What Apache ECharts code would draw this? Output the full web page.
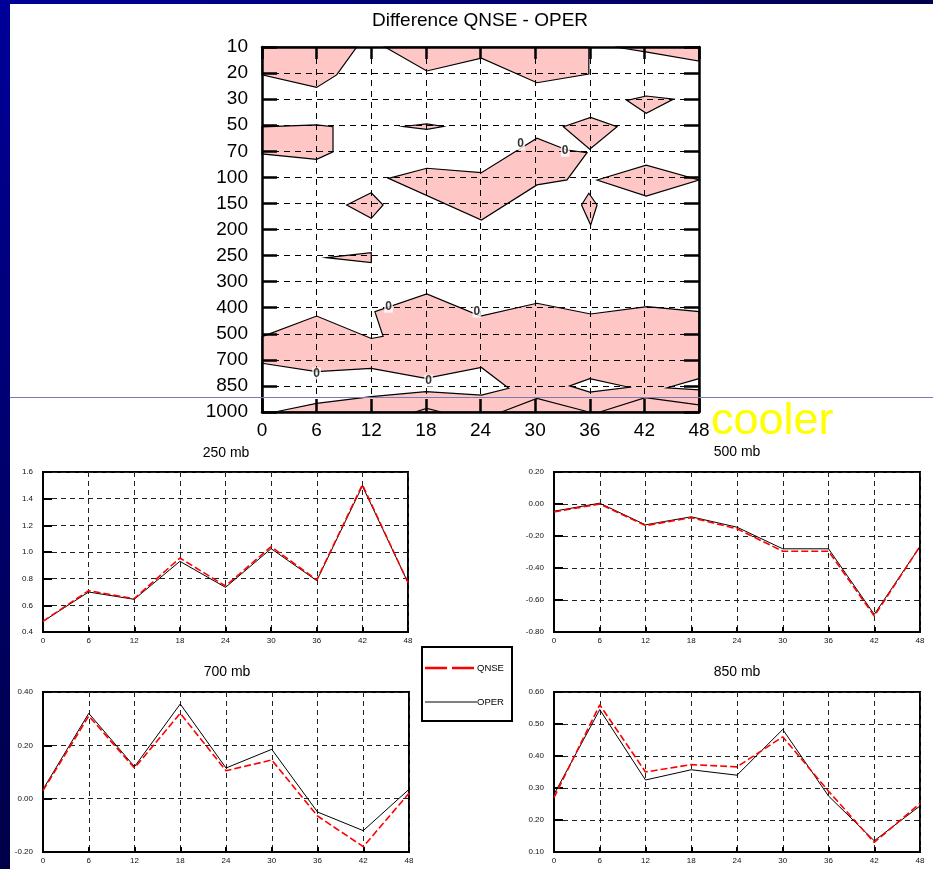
<!DOCTYPE html>
<html><head><meta charset="utf-8">
<script src="https://cdn.jsdelivr.net/npm/echarts@6/dist/echarts.min.js"></script>
<style>html,body{margin:0;padding:0;background:#fff}#c{width:933px;height:869px}</style>
</head><body><div id="c"></div>
<script>
// ---------- data ----------
const hours = [0, 6, 12, 18, 24, 30, 36, 42, 48];
const levels = ['10','20','30','50','70','100','150','200','250','300','400','500','700','850','1000'];

const qnse250 = [0.48, 0.71, 0.65, 0.955, 0.745, 1.04, 0.79, 1.505, 0.77];
const oper250 = [0.48, 0.70, 0.645, 0.93, 0.735, 1.025, 0.785, 1.495, 0.77];
const qnse500 = [-0.05, 0.0, -0.135, -0.085, -0.155, -0.295, -0.295, -0.70, -0.265];
const oper500 = [-0.045, 0.005, -0.13, -0.08, -0.145, -0.28, -0.28, -0.69, -0.265];
const qnse700 = [0.03, 0.31, 0.115, 0.32, 0.105, 0.145, -0.065, -0.18, 0.02];
const oper700 = [0.035, 0.32, 0.12, 0.355, 0.115, 0.185, -0.05, -0.12, 0.035];
const qnse850 = [0.27, 0.56, 0.35, 0.373, 0.366, 0.46, 0.29, 0.13, 0.252];
const oper850 = [0.28, 0.545, 0.325, 0.357, 0.34, 0.483, 0.275, 0.135, 0.244];

// contour regions: [hour, level index]
const pinkPolys = [
  [[0,0],[10.4,0],[8.2,1.07],[6,1.55],[0,1.07]],
  [[13.5,0],[18.1,0.92],[24.1,0.43],[30.2,1.37],[35.9,1.04],[35.9,0]],
  [[38.8,0],[42.3,0.2],[48,0.54],[48,0]],
  [[40.1,2.05],[42.2,1.88],[45.2,2.0],[42.2,2.54]],
  [[0,3.06],[6,2.99],[7.8,3.06],[7.8,4.02],[6,4.31],[0,4.1]],
  [[15.5,3.05],[18.1,2.95],[19.9,3.05],[18.1,3.16]],
  [[33.1,3.06],[36.1,2.7],[39,3.06],[36,3.92]],
  [[13.9,5.04],[18.1,4.65],[24.1,4.82],[27.8,4.02],[30.2,3.5],[33.5,3.95],[35.7,4.05],[33.5,5.1],[30.2,5.29],[24.1,6.64]],
  [[9.3,6.06],[12,5.59],[13.3,6.06],[12,6.57]],
  [[35.9,5.61],[36.8,6.06],[36.1,6.83],[35.1,6.06]],
  [[36.8,5.1],[42.2,4.53],[48,5.1],[42.2,5.72]],
  [[7.1,8.08],[12,7.89],[12,8.27]],
  [[0,11.11],[6,10.32],[12,11.18],[13.3,11.1],[12.4,10.15],[18.1,9.47],[24,10.32],[30.2,9.83],[36.1,10.24],[42.3,9.96],[48,10.15],[48,14],[0,14]]
];
const whitePolys = [
  [[0,12.13],[6,12.45],[12,12.33],[18,12.71],[24.1,12.29],[27.1,13.09],[24.1,13.35],[18,13.22],[12,13.41],[6,13.67],[1.4,14],[0,14]],
  [[33.8,13.0],[36,12.72],[40.3,13.05],[36,13.24]],
  [[44.5,13.07],[48,12.72],[48,13.15]]
];
const contourLines = [
  [[26.3,14],[30.2,13.48],[35.9,14]],
  [[37.1,14],[42.1,13.45],[48,13.73]],
  [[16.8,14],[18.1,13.86],[19.7,14]]
];
const zeroLabels = [[28.4,3.72],[33.3,3.98],[13.9,9.96],[23.6,10.15],[6.0,12.52],[18.3,12.8]];

// ---------- layout ----------
const FONT = '"Liberation Sans", Arial, Helvetica, sans-serif';
const panels = [
  {title:'250 mb', q:qnse250, o:oper250, min:0.4, max:1.6, interval:0.2, dec:1, grid:{left:43, top:472, width:365, height:160}, tx:226, ty:446},
  {title:'500 mb', q:qnse500, o:oper500, min:-0.8, max:0.2, interval:0.2, dec:2, grid:{left:554, top:472, width:366, height:160}, tx:737, ty:445},
  {title:'700 mb', q:qnse700, o:oper700, min:-0.2, max:0.4, interval:0.2, dec:2, grid:{left:43, top:692, width:366, height:160}, tx:227, ty:665},
  {title:'850 mb', q:qnse850, o:oper850, min:0.1, max:0.6, interval:0.1, dec:2, grid:{left:554, top:692, width:366, height:160}, tx:737, ty:665}
];

const grids = [{left:262, top:47, width:437, height:365, show:false}];
const xAxes = [], yAxes = [], series = [];
const titles = [{text:'Difference QNSE - OPER', left:480, top:11, textAlign:'center', padding:0,
  textStyle:{fontFamily:FONT, fontSize:19, fontWeight:'normal', color:'#000'}}];

const frameLine = {show:true, onZero:false, lineStyle:{color:'#000', width:2.5}};
const dashTop = {show:true, lineStyle:{color:'#000', width:1, type:[6,5]}};
xAxes.push({gridIndex:0, type:'value', min:0, max:48, interval:6, position:'bottom', z:3,
  axisLine:frameLine, axisTick:{show:true, inside:true, length:13, lineStyle:{color:'#000', width:2.5}},
  axisLabel:{fontFamily:FONT, fontSize:19, color:'#000', margin:9}, splitLine:dashTop});
xAxes.push({gridIndex:0, type:'value', min:0, max:48, interval:6, position:'top', z:3,
  axisLine:frameLine, axisTick:{show:true, inside:true, length:12, lineStyle:{color:'#000', width:2.5}},
  axisLabel:{show:false}, splitLine:{show:false}});
yAxes.push({gridIndex:0, type:'value', min:0, max:14, interval:1, inverse:true, position:'left', z:3,
  axisLine:frameLine, axisTick:{show:true, inside:true, length:15, lineStyle:{color:'#000', width:2.5}},
  axisLabel:{fontFamily:FONT, fontSize:19, color:'#000', margin:14, formatter:v => levels[v]}, splitLine:dashTop});
yAxes.push({gridIndex:0, type:'value', min:0, max:14, interval:1, inverse:true, position:'right', z:3,
  axisLine:frameLine, axisTick:{show:true, inside:true, length:15, lineStyle:{color:'#000', width:2.5}},
  axisLabel:{show:false}, splitLine:{show:false}});

function polySeries(polys, fill, z) {
  return {type:'custom', xAxisIndex:0, yAxisIndex:0, z:z, silent:true,
    data: polys.map((p, i) => [p[0][0], p[0][1], i]),
    renderItem: (params, api) => {
      const poly = polys[api.value(2)];
      return {type:'polygon', shape:{points: poly.map(pt => api.coord(pt))},
        style:{fill:fill, stroke:'#000', lineWidth:1.2}};
    }};
}
series.push(polySeries(pinkPolys, '#ffc6c6', 1));
series.push(polySeries(whitePolys, '#ffffff', 1.5));
series.push({type:'custom', xAxisIndex:0, yAxisIndex:0, z:4, silent:true,
  data: contourLines.map((p, i) => [p[0][0], p[0][1], i]),
  renderItem: (params, api) => ({type:'polyline', shape:{points: contourLines[api.value(2)].map(pt => api.coord(pt))},
    style:{fill:null, stroke:'#000', lineWidth:1.2}})});
series.push({type:'scatter', xAxisIndex:0, yAxisIndex:0, z:6, silent:true, data:zeroLabels,
  symbol:'circle', symbolSize:1, itemStyle:{color:'rgba(0,0,0,0)'},
  label:{show:true, position:'inside', formatter:'0', fontFamily:FONT, fontSize:12, fontWeight:'bold', color:'#000',
    backgroundColor:'#fff', padding:[0,1]}});

const dashSmall = {show:true, lineStyle:{color:'#222', width:1, type:[5,4]}};
panels.forEach((p, k) => {
  const gi = k + 1;          // grid index
  const ai = k + 2;          // axis index (grid 0 owns two x and two y axes)
  grids.push(Object.assign({show:true, borderColor:'#000', borderWidth:2}, p.grid));
  xAxes.push({gridIndex:gi, type:'value', min:0, max:48, interval:6, position:'bottom',
    axisLine:{show:true, onZero:false, lineStyle:{color:'#000', width:2}},
    axisTick:{show:true, inside:true, length:5, lineStyle:{color:'#000', width:2}},
    axisLabel:{fontFamily:FONT, fontSize:8, color:'#111', margin:5}, splitLine:dashSmall});
  yAxes.push({gridIndex:gi, type:'value', min:p.min, max:p.max, interval:p.interval, position:'left',
    axisLine:{show:true, onZero:false, lineStyle:{color:'#000', width:2}},
    axisTick:{show:true, inside:true, length:9, lineStyle:{color:'#000', width:2}},
    axisLabel:{fontFamily:FONT, fontSize:8, color:'#111', margin:10, formatter:v => v.toFixed(p.dec)}, splitLine:dashSmall});
  titles.push({text:p.title, left:p.tx, top:p.ty, textAlign:'center', padding:0,
    textStyle:{fontFamily:FONT, fontSize:14, fontWeight:'normal', color:'#000'}});
  series.push({name:'OPER', type:'line', xAxisIndex:ai, yAxisIndex:ai, symbol:'none', z:3,
    data: hours.map((h, i) => [h, p.o[i]]), itemStyle:{color:'#000'}, lineStyle:{color:'#000', width:1}});
  series.push({name:'QNSE', type:'line', xAxisIndex:ai, yAxisIndex:ai, symbol:'none', z:4,
    data: hours.map((h, i) => [h, p.q[i]]), itemStyle:{color:'#ff0000'}, lineStyle:{color:'#ff0000', width:1.6, type:[7,3]}});
});

const option = {
  animation:false,
  backgroundColor:'#ffffff',
  textStyle:{fontFamily:FONT},
  title:titles,
  grid:grids, xAxis:xAxes, yAxis:yAxes, series:series,
  graphic:[
    {type:'rect', z:100, shape:{x:0, y:0, width:10, height:869},
      style:{fill:new echarts.graphic.LinearGradient(0,0,0,1,[{offset:0,color:'#000099'},{offset:1,color:'#000048'}])}},
    {type:'rect', z:100, shape:{x:0, y:0, width:933, height:4},
      style:{fill:new echarts.graphic.LinearGradient(0,0,1,0,[{offset:0,color:'#000099'},{offset:1,color:'#00004c'}])}},
    {type:'line', z:100, shape:{x1:10, y1:397.5, x2:933, y2:397.5}, style:{stroke:'#7a7ab4', lineWidth:1}},
    {type:'text', z:100, x:711, y:422, style:{text:'cooler', fontFamily:FONT, fontSize:45, fill:'#ffff00', verticalAlign:'middle', align:'left'}},
    // legend
    {type:'rect', z:100, shape:{x:422, y:647, width:90, height:74}, style:{fill:'#fff', stroke:'#000', lineWidth:2}},
    {type:'line', z:101, shape:{x1:425, y1:668, x2:476, y2:668}, style:{stroke:'#ff0000', lineWidth:2.5, lineDash:[22,5]}},
    {type:'text', z:101, x:477, y:668, style:{text:'QNSE', fontFamily:FONT, fontSize:9.5, fill:'#000', verticalAlign:'middle'}},
    {type:'line', z:101, shape:{x1:425, y1:702, x2:477, y2:702}, style:{stroke:'#000', lineWidth:1}},
    {type:'text', z:101, x:477, y:702, style:{text:'OPER', fontFamily:FONT, fontSize:9.5, fill:'#000', verticalAlign:'middle'}}
  ]
};
const chart = echarts.init(document.getElementById('c'), null, {renderer:'canvas', width:933, height:869});
chart.setOption(option);
</script></body></html>
